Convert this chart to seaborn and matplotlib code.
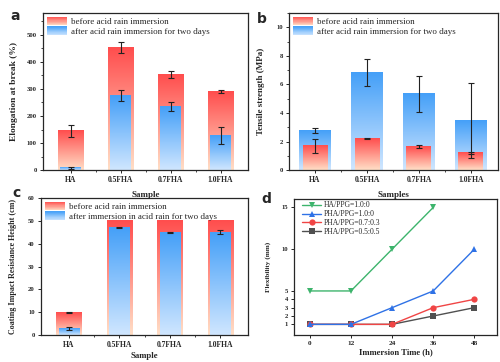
import numpy as np
import pandas as pd
import seaborn as sns
import matplotlib.pyplot as plt
from matplotlib.colors import LinearSegmentedColormap, to_rgb
from matplotlib.patches import Rectangle
from matplotlib.legend_handler import HandlerBase
from matplotlib.ticker import MultipleLocator, FixedLocator

# values
samples = ['HA', '0.5FHA', '0.7FHA', '1.0FHA']

elong_before = [145, 452, 354, 290]
elong_before_err = [21, 21, 12, 5]
elong_after = [8, 275, 236, 129]
elong_after_err = [2, 20, 16, 31]

tensile_before = [1.7, 2.22, 1.64, 1.2]
tensile_before_err = [0.5, 0.03, 0.1, 0.08]
tensile_after = [2.78, 6.84, 5.34, 3.5]
tensile_after_err = [0.15, 0.95, 1.27, 2.62]

impact_before = [10, 50, 50, 50]
impact_before_err = [0.2, 0, 0, 0]
impact_after = [2.9, 47, 45, 45]
impact_after_err = [0.8, 0.3, 0.3, 0.8]

time_h = [0, 12, 24, 36, 48]
time_ha = [0, 12, 24, 36]
flex_ha_10 = [5, 5, 10, 15]
flex_fha_10 = [1, 1, 3, 5, 10]
flex_fha_73 = [1, 1, 1, 3, 4]
flex_fha_55 = [1, 1, 1, 2, 3]

RED_TOP, RED_BOT = '#FF4E4E', '#FFDEC6'
BLUE_TOP, BLUE_BOT = '#45A0F8', '#CFE6FF'

sns.set_style('ticks')
plt.rcParams['font.family'] = ['Liberation Serif', 'DejaVu Serif']
plt.rcParams['font.weight'] = 'bold'
plt.rcParams['axes.labelweight'] = 'bold'
plt.rcParams['axes.linewidth'] = 0.9


class GradientHandler(HandlerBase):
    def __init__(self, top, bottom, steps=16):
        super().__init__()
        self.top = np.array(to_rgb(top))
        self.bottom = np.array(to_rgb(bottom))
        self.steps = steps

    def create_artists(self, legend, orig_handle, xdescent, ydescent,
                       width, height, fontsize, trans):
        arts = []
        for i in range(self.steps):
            f = (i + 0.5) / self.steps
            c = self.bottom * (1 - f) + self.top * f
            arts.append(Rectangle((-xdescent, -ydescent + height * i / self.steps),
                                  width, height / self.steps * 1.05,
                                  facecolor=c, edgecolor='none', transform=trans))
        return arts


def gradient_bars(ax, df, col, width, top, bottom, z):
    n0 = len(ax.patches)
    sns.barplot(data=df, x='Sample', y=col, color=top, width=width,
                errorbar=None, ax=ax)
    bars = ax.patches[n0:]
    cmap = LinearSegmentedColormap.from_list(col, [bottom, top])
    grad = np.linspace(0, 1, 64).reshape(-1, 1)
    for p in bars:
        x0, y0, w, h = p.get_x(), p.get_y(), p.get_width(), p.get_height()
        ax.imshow(grad, extent=[x0, x0 + w, y0, y0 + h], origin='lower',
                  aspect='auto', cmap=cmap, zorder=z, interpolation='bilinear')
        p.set_visible(False)
    return bars


def add_err(ax, bars, err):
    xs = [p.get_x() + p.get_width() / 2 for p in bars]
    ys = [p.get_height() for p in bars]
    keep = [i for i, e in enumerate(err) if e > 0]
    ax.errorbar([xs[i] for i in keep], [ys[i] for i in keep],
                yerr=[err[i] for i in keep], fmt='none', ecolor='#222222',
                elinewidth=0.8, capsize=2, capthick=0.8, zorder=5)


def style_axes(ax):
    for s in ax.spines.values():
        s.set_visible(True)
        s.set_linewidth(0.9)
    ax.tick_params(which='major', length=2.5, width=0.7, pad=2)
    ax.tick_params(which='minor', length=1.5, width=0.6)
    ax.tick_params(axis='y', labelsize=4.8)
    ax.tick_params(axis='x', labelsize=5.5)


def bar_legend(ax, labels):
    h_red, h_blue = Rectangle((0, 0), 1, 1), Rectangle((0, 0), 1, 1)
    ax.legend([h_red, h_blue], labels, loc='upper left', frameon=False,
              handler_map={h_red: GradientHandler(RED_TOP, RED_BOT),
                           h_blue: GradientHandler(BLUE_TOP, BLUE_BOT)},
              prop={'size': 6.5, 'weight': 'normal'}, handlelength=2.3,
              handleheight=1.1, handletextpad=0.35, labelspacing=0.05,
              borderaxespad=0.15, borderpad=0.25)


fig = plt.figure(figsize=(5, 3.62), dpi=100)
ax_a = fig.add_axes([0.086, 0.530, 0.410, 0.434])
ax_b = fig.add_axes([0.578, 0.530, 0.418, 0.434])
ax_c = fig.add_axes([0.082, 0.074, 0.414, 0.379])
ax_d = fig.add_axes([0.588, 0.074, 0.406, 0.376])

# a: elongation
df_a = pd.DataFrame({'Sample': samples, 'before': elong_before, 'after': elong_after})
bars_r = gradient_bars(ax_a, df_a, 'before', 0.52, RED_TOP, RED_BOT, 1)
bars_b = gradient_bars(ax_a, df_a, 'after', 0.42, BLUE_TOP, BLUE_BOT, 2)
add_err(ax_a, bars_r, elong_before_err)
add_err(ax_a, bars_b, elong_after_err)
ax_a.set_xlim(-0.55, 3.55)
ax_a.set_ylim(0, 580)
ax_a.yaxis.set_major_locator(MultipleLocator(100))
ax_a.yaxis.set_minor_locator(MultipleLocator(50))
ax_a.xaxis.set_minor_locator(FixedLocator([0.5, 1.5, 2.5]))
ax_a.set_ylabel('Elongation at break (%)', fontsize=6.8, labelpad=6)
ax_a.set_xlabel('Sample', fontsize=6.5, labelpad=5)
style_axes(ax_a)
bar_legend(ax_a, ['before acid rain immersion', 'after acid rain immersion for two days'])

# b: tensile strength
df_b = pd.DataFrame({'Sample': samples, 'before': tensile_before, 'after': tensile_after})
bars_b = gradient_bars(ax_b, df_b, 'after', 0.6, BLUE_TOP, BLUE_BOT, 1)
bars_r = gradient_bars(ax_b, df_b, 'before', 0.48, RED_TOP, RED_BOT, 2)
add_err(ax_b, bars_b, tensile_after_err)
add_err(ax_b, bars_r, tensile_before_err)
ax_b.set_xlim(-0.5, 3.52)
ax_b.set_ylim(0, 11)
ax_b.yaxis.set_major_locator(MultipleLocator(2))
ax_b.yaxis.set_minor_locator(MultipleLocator(1))
ax_b.xaxis.set_minor_locator(FixedLocator([0.5, 1.5, 2.5]))
ax_b.set_ylabel('Tensile strength (MPa)', fontsize=6.5, labelpad=8)
ax_b.set_xlabel('Samples', fontsize=6.5, labelpad=5)
style_axes(ax_b)
bar_legend(ax_b, ['before acid rain immersion', 'after acid rain immersion for two days'])

# c: impact resistance
df_c = pd.DataFrame({'Sample': samples, 'before': impact_before, 'after': impact_after})
bars_r = gradient_bars(ax_c, df_c, 'before', 0.5, RED_TOP, RED_BOT, 1)
bars_b = gradient_bars(ax_c, df_c, 'after', 0.4, BLUE_TOP, BLUE_BOT, 2)
add_err(ax_c, bars_r, impact_before_err)
add_err(ax_c, bars_b, impact_after_err)
ax_c.set_xlim(-0.55, 3.55)
ax_c.set_ylim(0, 60)
ax_c.yaxis.set_major_locator(MultipleLocator(10))
ax_c.xaxis.set_minor_locator(FixedLocator([0.5, 1.5, 2.5]))
ax_c.set_ylabel('Coating Impact Resistance Height (cm)', fontsize=5.8, labelpad=8)
ax_c.set_xlabel('Sample', fontsize=6.3, labelpad=1.5)
style_axes(ax_c)
bar_legend(ax_c, ['before acid rain immersion', 'after immersion in acid rain for two days'])

# d: flexibility
series = [
    ('PHA/PPG=0.5:0.5', time_h, flex_fha_55, '#505050', 's'),
    ('PHA/PPG=0.7:0.3', time_h, flex_fha_73, '#F04545', 'o'),
    ('PHA/PPG=1.0:0', time_h, flex_fha_10, '#2F72E6', '^'),
    ('HA/PPG=1.0:0', time_ha, flex_ha_10, '#3DB46C', 'v'),
]
for name, t, v, c, m in series:
    sns.lineplot(x=t, y=v, color=c, marker=m, markersize=4.5, markeredgewidth=0,
                 linewidth=1.0, label=name, ax=ax_d)
h, l = ax_d.get_legend_handles_labels()
ax_d.legend(h[::-1], l[::-1], loc='upper left', frameon=False,
            bbox_to_anchor=(0.03, 0.995), prop={'size': 5.5, 'weight': 'normal'},
            handlelength=2.6, handletextpad=0.3, labelspacing=0.12,
            borderaxespad=0.1, borderpad=0.1)
ax_d.set_xlim(-4.6, 54.6)
ax_d.set_ylim(-0.3, 16)
ax_d.set_xticks(time_h)
ax_d.set_yticks([1, 2, 3, 4, 5, 10, 15])
ax_d.set_ylabel('Flexibility (mm)', fontsize=5.2, labelpad=7)
ax_d.set_xlabel('Immersion Time (h)', fontsize=6.2, labelpad=1.5)
style_axes(ax_d)
ax_d.tick_params(axis='x', labelsize=5.2)

for x, y, s in [(0.02, 0.975, 'a'), (0.514, 0.968, 'b'), (0.024, 0.485, 'c'), (0.522, 0.47, 'd')]:
    fig.text(x, y, s, ha='left', va='top', fontsize=10, fontweight='bold',
             family='DejaVu Sans')

fig.savefig('out.png', dpi=100)
